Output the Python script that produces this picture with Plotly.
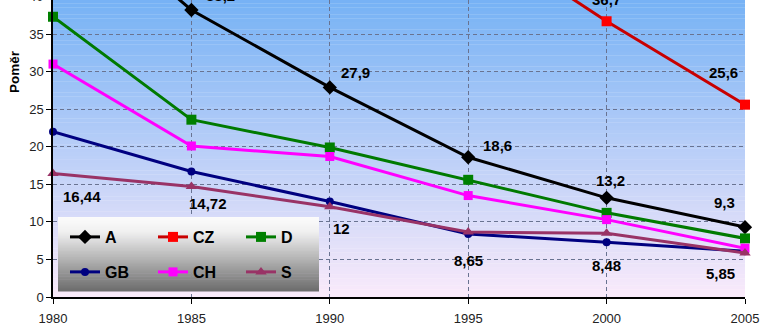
import plotly.graph_objects as go

years = [1980, 1985, 1990, 1995, 2000, 2005]
series_names = ["A", "CZ", "D", "GB", "CH", "S"]
vals_A = [54.0, 38.2, 27.9, 18.6, 13.2, 9.3]
vals_CZ = [None, None, None, 48.8, 36.7, 25.6]
vals_D = [37.3, 23.6, 19.9, 15.6, 11.2, 7.8]
vals_GB = [22.0, 16.7, 12.7, 8.4, 7.3, 6.1]
vals_CH = [31.0, 20.1, 18.7, 13.5, 10.3, 6.5]
vals_S = [16.44, 14.72, 12.0, 8.65, 8.48, 5.85]

label_A = ["", "38,2", "27,9", "18,6", "13,2", "9,3"]
label_CZ = ["", "", "", "", "36,7", "25,6"]
label_S = ["16,44", "14,72", "12", "8,65", "8,48", "5,85"]

y_ticks = [0, 5, 10, 15, 20, 25, 30, 35]

FONT = "Liberation Sans, Arial, sans-serif"

# layout geometry (pixels)
W, H = 771, 336
ML, MR, MT, MB = 53, 26, 0, 39
PW = W - ML - MR
PH = H - MT - MB
YMAX = 39.53

styles = {
    "A": dict(line="#000000", marker="#000000", symbol="diamond", size=11),
    "CZ": dict(line="#c80000", marker="#ff0000", symbol="square", size=10),
    "D": dict(line="#007a00", marker="#008000", symbol="square", size=10),
    "GB": dict(line="#000080", marker="#000080", symbol="circle", size=8),
    "CH": dict(line="#ff00ff", marker="#ff00ff", symbol="square", size=9),
    "S": dict(line="#993366", marker="#993366", symbol="triangle-up", size=10),
}
data = {"A": vals_A, "CZ": vals_CZ, "D": vals_D, "GB": vals_GB, "CH": vals_CH, "S": vals_S}

fig = go.Figure()
for name in series_names:
    st = styles[name]
    fig.add_trace(go.Scatter(
        x=years, y=data[name], name=name, mode="lines+markers",
        line=dict(color=st["line"], width=3),
        marker=dict(color=st["marker"], symbol=st["symbol"], size=st["size"]),
        cliponaxis=False,
        legend="legend" if name in ("A", "CZ", "D") else "legend2",
    ))

shapes = []
# plot-area gradient background (blue top -> pinkish white bottom)
N = 80
top = (118, 178, 245)
bot = (250, 234, 250)
for i in range(N):
    t = (i + 0.5) / N
    c = tuple(int(round(top[k] + (bot[k] - top[k]) * t)) for k in range(3))
    shapes.append(dict(type="rect", xref="paper", yref="paper",
                       x0=0, x1=1, y0=1 - (i + 1) / N, y1=1 - i / N + 0.001,
                       fillcolor="rgb(%d,%d,%d)" % c, line=dict(width=0), layer="below"))

# legend gradient box
lx0, lx1, ly0, ly1 = 58, 319, 217, 291
def px2x(p):
    return (p - ML) / PW
def py2y(p):
    return (H - MB - p) / PH
M = 50
for i in range(M):
    t = (i + 0.5) / M
    if t < 0.2:
        g = 252 - (252 - 240) * (t / 0.2)
    else:
        g = 240 - (240 - 108) * ((t - 0.2) / 0.8)
    g = int(round(g))
    pa = ly0 + (ly1 - ly0) * i / M
    pb = ly0 + (ly1 - ly0) * (i + 1) / M + 0.6
    shapes.append(dict(type="rect", xref="paper", yref="paper",
                       x0=px2x(lx0), x1=px2x(lx1), y0=py2y(pb), y1=py2y(pa),
                       fillcolor="rgb(%d,%d,%d)" % (g, g, g), line=dict(width=0), layer="above"))

annotations = []
offs_A = [(0, 0), (29, -14), (26, -15), (29, -12), (4, -17), (-21, -25)]
offs_CZ = [(0, 0)] * 4 + [(0, -22), (-22, -32)]
offs_S = [(29, 23), (17, 17), (12, 22), (0, 28), (0, 32), (-25, 20)]
for labels, vals, offs in ((label_A, vals_A, offs_A), (label_CZ, vals_CZ, offs_CZ), (label_S, vals_S, offs_S)):
    for yr, v, lab, (dx, dy) in zip(years, vals, labels, offs):
        if lab:
            annotations.append(dict(x=yr, y=v, xref="x", yref="y", text=lab, showarrow=False,
                                    xshift=dx, yshift=-dy, xanchor="center", yanchor="middle",
                                    font=dict(family=FONT, size=15, color="#000000", weight="bold")))

# partially visible "40" tick at the top edge
annotations.append(dict(x=0, y=40 / YMAX, xref="paper", yref="paper", text="40", showarrow=False,
                        xanchor="right", yanchor="middle", xshift=-8,
                        font=dict(family=FONT, size=13, color="#222222")))
# y-axis title
annotations.append(dict(x=px2x(14), y=py2y(72), xref="paper", yref="paper", text="<b>Poměr</b>",
                        showarrow=False, xanchor="center", yanchor="middle",
                        textangle=-90, font=dict(family=FONT, size=13.5, color="#000000")))

grid = "rgb(105,115,145)"
fig.update_layout(
    width=W, height=H,
    margin=dict(l=ML, r=MR, t=MT, b=MB),
    paper_bgcolor="white", plot_bgcolor="rgba(0,0,0,0)",
    shapes=shapes, annotations=annotations,
    font=dict(family=FONT, size=13, color="#222222"),
    xaxis=dict(range=[1980, 2005], tickvals=years, ticktext=[str(y) for y in years],
               showgrid=True, gridcolor=grid, gridwidth=1, griddash="4px,3px",
               showline=True, linecolor="black", linewidth=1.5,
               ticks="outside", ticklen=5, tickcolor="black", zeroline=False,
               ticklabelstandoff=4,
               tickfont=dict(family=FONT, size=13, color="#222222")),
    yaxis=dict(range=[0, YMAX], tickvals=y_ticks,
               showgrid=True, gridcolor=grid, gridwidth=1, griddash="4px,3px",
               showline=True, linecolor="black", linewidth=1.5,
               ticks="outside", ticklen=5, tickcolor="black", zeroline=False,
               tickfont=dict(family=FONT, size=13, color="#222222")),
    showlegend=True,
    legend=dict(orientation="h", x=px2x(65), xanchor="left", y=py2y(237), yanchor="middle",
                bgcolor="rgba(0,0,0,0)", entrywidth=43, entrywidthmode="pixels", itemwidth=30,
                font=dict(family=FONT, size=16, color="#000000", weight="bold")),
    legend2=dict(orientation="h", x=px2x(65), xanchor="left", y=py2y(272), yanchor="middle",
                 bgcolor="rgba(0,0,0,0)", entrywidth=43, entrywidthmode="pixels", itemwidth=30,
                 font=dict(family=FONT, size=16, color="#000000", weight="bold")),
)

fig.write_html("out.html")
